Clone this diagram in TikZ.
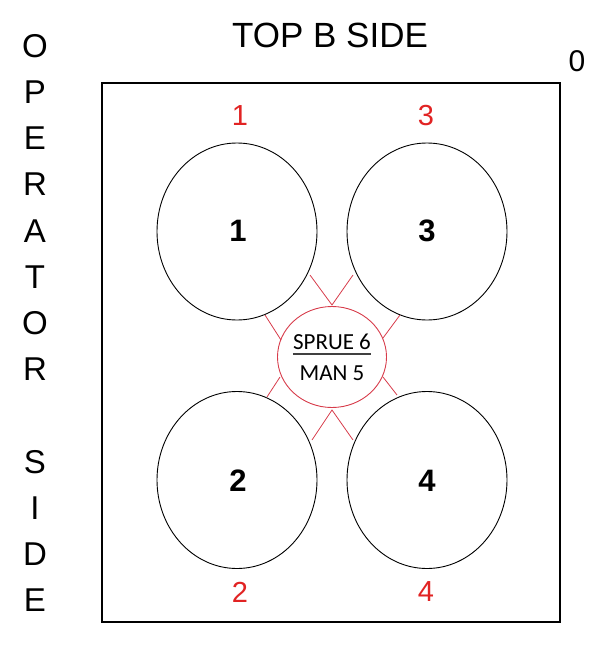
\documentclass[tikz,border=0pt]{standalone}
\usepackage{fontspec}
\setmainfont{Liberation Sans}
\newfontfamily\calib{Carlito}
\usetikzlibrary{shapes.geometric}
\definecolor{lblred}{RGB}{225,35,35}
\definecolor{runred}{RGB}{215,60,75}
\tikzset{
  cav/.style={draw=black, line width=0.9pt, ellipse, minimum width=160pt, minimum height=177pt, inner sep=0pt},
  cavnum/.style={font=\fontsize{31}{31}\selectfont\bfseries},
  rednum/.style={text=lblred, font=\fontsize{29}{29}\selectfont},
  side/.style={font=\fontsize{33}{33}\selectfont, inner sep=0pt},
  runner/.style={draw=runred, line width=0.8pt},
}
\begin{document}
\begin{tikzpicture}[x=1pt,y=-1pt]
\useasboundingbox (0,0) rectangle (606,645);
\node[draw=black, line width=1.3pt, minimum width=458pt, minimum height=539pt, inner sep=0pt] (box) at (331,352.5) {};
% cavities
\node[cav] (c1) at (237,231.5) {};
\node[cav] (c3) at (427,231.5) {};
\node[cav] (c2) at (237,480) {};
\node[cav] (c4) at (427,480) {};
\node[cavnum] (n1) at (238,231) {1};
\node[cavnum] (n3) at (427,231) {3};
\node[cavnum] (n2) at (238,481) {2};
\node[cavnum] (n4) at (427,481) {4};
% red labels
\node[rednum] (r1) at (240,116) {1};
\node[rednum] (r3) at (426,116) {3};
\node[rednum] (r2) at (240,592) {2};
\node[rednum] (r4) at (426,592) {4};
% sprue
\node[draw=runred, line width=0.9pt, ellipse, minimum width=109pt, minimum height=101pt, inner sep=0pt] (sp) at (332,357) {};
\node[font=\calib\fontsize{23}{23}\selectfont, inner sep=0pt] (sp1) at (332,342) {SPRUE 6};
\node[font=\calib\fontsize{23}{23}\selectfont, inner sep=0pt] (sp2) at (332,373) {MAN 5};
\draw[line width=1.6pt, black!75] (sp1.south west) ++(0,4) coordinate (ul1) -- (sp1.south east |- ul1) coordinate (ul2);
% runners
\coordinate (ta) at (332,305);
\coordinate (ba) at (332,410);
\draw[runner] (310,275) -- (ta) -- (353,275);
\draw[runner] (312,440) -- (ba) -- (353,440);
\draw[runner] (265,315) -- (281,340);
\draw[runner] (400,315) -- (383,338);
\draw[runner] (280,377) -- (267,397);
\draw[runner] (383,377) -- (397,395);
% texts
\node[font=\fontsize{35}{35}\selectfont, inner sep=0pt] (top) at (330,35) {TOP B SIDE};
\node[font=\fontsize{30}{30}\selectfont, inner sep=0pt] (zero) at (577,61) {0};
\foreach \ch [count=\i from 0] in {O,P,E,R,A,T,O,R,{},S,I,D,E}{
  \node[side] (op\i) at (35,{46+\i*46.2}) {\ch};
}
\end{tikzpicture}
\end{document}
